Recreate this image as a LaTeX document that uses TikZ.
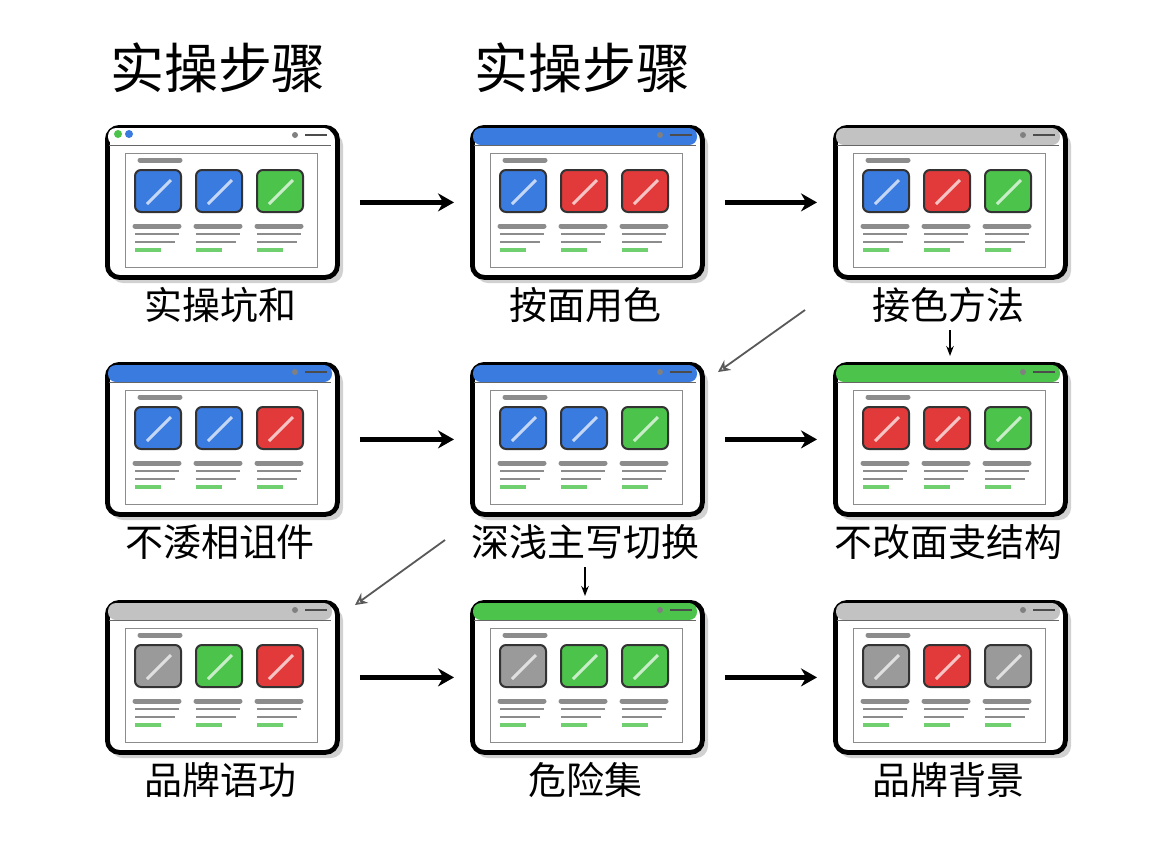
\documentclass[tikz,border=0pt]{standalone}
\usepackage{fontspec}
\usetikzlibrary{arrows.meta}
\newfontfamily\cjk{Noto Sans CJK SC}
\definecolor{cb}{HTML}{3A7BE0}
\definecolor{cr}{HTML}{E23A3A}
\definecolor{cg}{HTML}{4CC44C}
\definecolor{cy}{HTML}{9A9A9A}
\definecolor{cw}{HTML}{FFFFFF}
\tikzset{
 lbl/.style={font=\cjk\fontsize{19}{19}\selectfont, anchor=center},
 ttl/.style={font=\cjk\fontsize{27}{27}\selectfont},
 arr/.style={-{Stealth[length=8pt,width=9pt]}, line width=2.4pt},
 garr/.style={-{Stealth[length=6pt,width=6pt,open]}, line width=0.9pt, black!65},
 sq/.style={rounded corners=3pt, draw=black!80, line width=1pt},
}
\newcommand\mywin[8]{% name, x, y, bar, c1,c2,c3, label
 \begin{scope}[shift={(#2,#3)}]
  \fill[black!18,rounded corners=6pt] (6,8) rectangle (238,158);
  \node[draw=black,line width=2.4pt,rounded corners=6pt,fill=white,minimum width=230*0.5pt,minimum height=150*0.5pt,anchor=north west,inner sep=0] (#1) at (0,0) {};
  \fill[#4,rounded corners=4pt] (3,3) rectangle (227,20);
  \draw[black!60] (4,20) -- (226,20);
  \fill[black!50] (190,10) circle (3); \draw[black!70,line width=1pt] (200,10)--(222,10);
  \draw[black!45] (20,28) rectangle (212,142);
  \draw[black!45,line width=2.5pt,line cap=round] (35,35)--(75,35);
  \foreach \c [count=\i from 0] in {#5,#6,#7}{
   \begin{scope}[shift={(30+\i*61,45)}]
    \draw[sq,fill=\c] (0,0) rectangle (46,42);
    \draw[white,line width=1.5pt,opacity=.7] (12,34)--(36,10);
    \draw[black!45,line width=2.5pt,line cap=round] (0,56)--(44,56);
    \draw[black!45,line width=1pt] (0,64)--(44,64) (0,72)--(40,72);
    \draw[cg!80,line width=2pt] (0,80)--(26,80);
   \end{scope}}
 \end{scope}
 \node[lbl] at (#2+115,#3+180) {#8};
}
\begin{document}
\begin{tikzpicture}[x=0.5pt,y=-0.5pt]
\useasboundingbox (0,0) rectangle (1152,864);
\fill[white] (0,0) rectangle (1152,864);
\node[ttl] at (218,68) {实操步骤};
\node[ttl] at (582,68) {实操步骤};
\mywin{w11}{105}{125}{cw}{cb}{cb}{cg}{实操坑和}
\fill[cg] (118,134) circle (4); \fill[cb] (129,134) circle (4);
\mywin{w12}{470}{125}{cb}{cb}{cr}{cr}{按面用色}
\mywin{w13}{833}{125}{cy!60}{cb}{cr}{cg}{接色方法}
\mywin{w21}{105}{362}{cb}{cb}{cb}{cr}{不涹相诅件}
\mywin{w22}{470}{362}{cb}{cb}{cb}{cg}{深浅主写切换}
\mywin{w23}{833}{362}{cg}{cr}{cr}{cg}{不改面叏结构}
\mywin{w31}{105}{600}{cy!60}{cy}{cg}{cr}{品牌语功}
\mywin{w32}{470}{600}{cg}{cy}{cg}{cg}{危险集}
\mywin{w33}{833}{600}{cy!60}{cy}{cr}{cy}{品牌背景}
\foreach \a/\b in {w11/w12,w12/w13,w21/w22,w22/w23,w31/w32,w32/w33}
 \draw[arr] ([xshift=10pt]\a.east) -- ([xshift=-8pt]\b.west);
\coordinate (d1) at (805,310); \coordinate (d1e) at (718,372);
\draw[garr] (d1) -- (d1e);
\coordinate (d2) at (445,540); \coordinate (d2e) at (355,605);
\draw[garr] (d2) -- (d2e);
\coordinate (s1) at (950,330); \coordinate (s1e) at (950,356);
\draw[-{Stealth[length=5pt]},line width=1.2pt] (s1) -- (s1e);
\coordinate (s2) at (585,567); \coordinate (s2e) at (585,596);
\draw[-{Stealth[length=5pt]},line width=1.2pt] (s2) -- (s2e);
\end{tikzpicture}
\end{document}
